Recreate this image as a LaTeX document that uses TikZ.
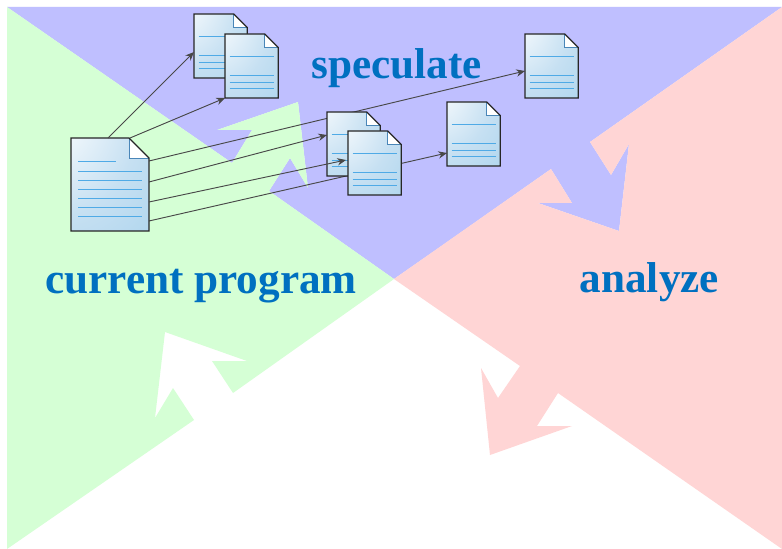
\documentclass[tikz,border=0pt]{standalone}
\usepackage{fontspec}
\setmainfont{Liberation Serif}
\usetikzlibrary{calc,arrows.meta}
\definecolor{specblue}{HTML}{BFBFFF}
\definecolor{currgreen}{HTML}{D5FFD5}
\definecolor{anared}{HTML}{FFD5D5}
\definecolor{labelblue}{HTML}{0070C0}
\definecolor{ruleblue}{HTML}{4FAAE6}
\definecolor{foldblue}{HTML}{4A86B8}
\definecolor{wiregray}{HTML}{484848}
\definecolor{sheetlight}{HTML}{C6E0F2}
\definecolor{sheetmid}{HTML}{A6D1EC}
\definecolor{sheetdeep}{HTML}{9CCBEA}
\pgfdeclareradialshading{sheetglow}{\pgfpoint{-50bp}{50bp}}{
	color(0bp)=(white);
	color(12bp)=(white);
	color(50bp)=(sheetlight);
	color(85bp)=(sheetmid);
	color(145bp)=(sheetdeep)}
\pgfdeclarelayer{wires}
\pgfdeclarelayer{front}
\pgfsetlayers{wires,main,front}
% sheet outline, fold and rules on top of a named node
\newcommand{\sheetbody}[3]{
	\shade [shading=sheetglow]
		(#1.north west) -- ($(#1.north east)+(-#2,0)$) -- ($(#1.north east)+(0,#2)$)
		-- (#1.south east) -- (#1.south west) -- cycle;
	\foreach \ypos in {#3}
		\draw [sheetrule] ($(#1.north west)+(#2*0.35,\ypos)$) -- ($(#1.north east)+(-#2*0.35,\ypos)$);
	\fill [white] ($(#1.north east)+(-#2,0)$) -- ($(#1.north east)+(0,#2)$)
		-- ($(#1.north east)+(-#2,#2)$) -- cycle;
	\draw [draw=foldblue,line width=0.7pt] ($(#1.north east)+(-#2,0)$) -- ($(#1.north east)+(-#2,#2)$)
		-- ($(#1.north east)+(0,#2)$);
	\draw [draw=black!85,line width=0.9pt] (#1.north west) -- ($(#1.north east)+(-#2,0)$)
		-- ($(#1.north east)+(0,#2)$) -- (#1.south east) -- (#1.south west) -- cycle;
}
\newcommand{\smallsheet}[2]{
	\node [sheet,minimum width=40pt,minimum height=48pt] (#1) at (#2) {};
	\sheetbody{#1}{13.5}{22,41,48,54}
}
\begin{document}
\begin{tikzpicture} [
	x=0.75pt,y=-0.75pt,
	sheet/.style={
		rectangle,anchor=north west,inner sep=0pt,outer sep=0pt
	},
	sheetrule/.style={
		draw=ruleblue,line width=0.7pt
	},
	wire/.style={
		draw=wiregray,line width=0.7pt,-{Stealth[length=6.5pt,width=5.5pt]}
	},
	looplabel/.style={
		anchor=base west,inner sep=0pt,text=labelblue,
		font=\fontsize{32.4}{36}\selectfont\bfseries
	}
]
\begin{pgfonlayer}{wires}
\fill [white] (0,0) rectangle (782,549);
% speculate
\fill [specblue] (7,7) -- (232,163) -- (252,130) -- (217,130) -- (298,102) -- (308,188)
	-- (290,158) -- (269,191) -- (394,279) -- (440,247) -- (551,169) -- (572,203)
	-- (538,203) -- (619,231) -- (629,144) -- (611,175) -- (590,142) -- (782,7) -- cycle;
% current program
\fill [currgreen] (7,7) -- (232,163) -- (252,130) -- (217,130) -- (298,102) -- (308,188)
	-- (290,158) -- (269,191) -- (394,279) -- (233,393) -- (212,361) -- (247,361)
	-- (165,332) -- (155,418) -- (173,388) -- (194,420) -- (7,549) -- cycle;
% analyze
\fill [anared] (782,7) -- (590,142) -- (611,175) -- (629,144) -- (619,231) -- (538,203)
	-- (572,203) -- (551,169) -- (394,279) -- (520,366) -- (498,398) -- (481,368)
	-- (490,455) -- (572,426) -- (537,426) -- (558,393) -- (782,549) -- cycle;
\end{pgfonlayer}

\node [looplabel] (speculate) at (311,79) {speculate};
\node [looplabel] (current) at (45,293) {current program};
\node [looplabel] (analyze) at (579.5,292) {analyze};

\node [sheet,minimum width=58.5pt,minimum height=69.75pt] (source) at (71,138) {};
\sheetbody{source}{20}{33,42,51,60,69,78}
\draw [sheetrule] ($(source.north west)+(7,23)$) -- ($(source.north west)+(45,23)$);

\smallsheet{firsta}{194,14}
\smallsheet{firstb}{225,34}
\smallsheet{farcopy}{525,34}
\smallsheet{nearcopy}{447,102}
\smallsheet{midcopya}{327,112}
\begin{pgfonlayer}{front}
\smallsheet{midcopyb}{348,131}
\end{pgfonlayer}

\draw [wire] ($(source.north)+(-2,0)$) -- ($(firsta.west)+(0,6)$);
\draw [wire] ($(source.north east)+(-19,0)$) -- (firstb.south west);
\draw [wire] ($(source.east)+(0,17.5)$) -- ($(midcopyb.west)+(-2,-3)$);
\begin{pgfonlayer}{wires}
\draw [wire] ($(source.east)+(0,-23.5)$) -- ($(farcopy.west)+(0,5)$);
\draw [wire] ($(source.east)+(0,-2.5)$) -- ($(midcopya.west)+(0,-9)$);
\draw [wire] ($(source.east)+(0,36.5)$) -- ($(nearcopy.west)+(0,19)$);
\end{pgfonlayer}
\end{tikzpicture}
\end{document}
